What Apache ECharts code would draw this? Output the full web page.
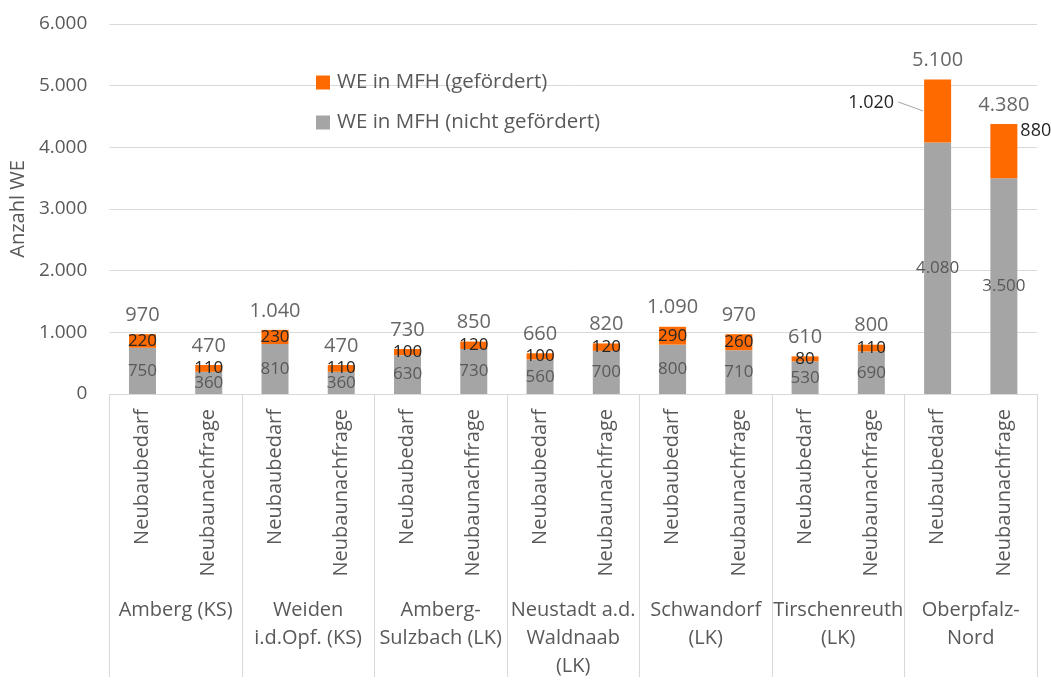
<!DOCTYPE html>
<html>
<head>
<meta charset="utf-8">
<script src="https://cdn.jsdelivr.net/npm/echarts@6/dist/echarts.min.js"></script>
<style>
  html, body { margin: 0; padding: 0; background: #fff; }
  #chart { width: 1051px; height: 680px; }
</style>
</head>
<body>
<div id="chart"></div>
<script>
// Regionen (zweite Achsenebene) und Kennzahl je Region (erste Ebene)
const regions = ['Amberg (KS)', 'Weiden\ni.d.Opf. (KS)', 'Amberg-\nSulzbach (LK)', 'Neustadt a.d.\nWaldnaab\n(LK)', 'Schwandorf\n(LK)', 'Tirschenreuth\n(LK)', 'Oberpfalz-\nNord'];
const kinds = ['Neubaubedarf', 'Neubaunachfrage'];

// Wohneinheiten in Mehrfamilienhäusern, je Region: Bedarf, Nachfrage
const weGefoerdert = [220, 110, 230, 110, 100, 120, 100, 120, 290, 260, 80, 110, 1020, 880];
const weNichtGefoerdert = [750, 360, 810, 360, 630, 730, 560, 700, 800, 710, 530, 690, 4080, 3500];

// y-Achse
const yTicks = [0, 1000, 2000, 3000, 4000, 5000, 6000];

const categories = [];
regions.forEach(() => kinds.forEach(k => categories.push(k)));
const totals = weGefoerdert.map((v, i) => v + weNichtGefoerdert[i]);

const fmt = v => String(v).replace(/\B(?=(\d{3})+(?!\d))/g, '.');

const FONT = '"Open Sans", sans-serif';
const TXT = '#595959';
const ORANGE = '#FF6A00';
const GREY = '#A5A5A5';
const BAR_WIDTH = 27;

// Balken, deren Beschriftung neben den Balken gesetzt wird
const LEFT_LABEL_INDEX = 12;
const RIGHT_LABEL_INDEX = 13;

const orangeData = weGefoerdert.map((v, i) => {
  if (i === LEFT_LABEL_INDEX) {
    return {
      value: v,
      label: { position: 'left', distance: 30, offset: [0, -8], color: '#262626', fontSize: 18 }
    };
  }
  if (i === RIGHT_LABEL_INDEX) {
    return {
      value: v,
      label: { position: 'right', distance: 3, offset: [0, -20], color: '#262626', fontSize: 18 }
    };
  }
  return v;
});

const chart = echarts.init(document.getElementById('chart'), null, { renderer: 'canvas' });

chart.setOption({
  animation: false,
  backgroundColor: '#fff',
  textStyle: { fontFamily: FONT },
  grid: { left: 108, right: 14, top: 24, bottom: 285, containLabel: false },
  legend: {
    data: ['WE in MFH (gefördert)', 'WE in MFH (nicht gefördert)'],
    orient: 'vertical',
    left: 311,
    top: 67,
    itemWidth: 14,
    itemHeight: 14,
    itemGap: 19,
    icon: 'rect',
    textStyle: { fontFamily: FONT, fontSize: 20.5, color: TXT, padding: [0, 0, 0, 2] }
  },
  xAxis: [
    {
      type: 'category',
      data: categories,
      position: 'bottom',
      axisLine: { show: true, lineStyle: { color: '#D9D9D9', width: 1 } },
      axisTick: { show: false },
      axisLabel: {
        rotate: 90,
        margin: 15,
        fontFamily: FONT,
        fontSize: 20,
        color: TXT,
        interval: 0
      }
    },
    {
      type: 'category',
      data: regions,
      position: 'bottom',
      boundaryGap: true,
      axisLine: { show: false },
      axisTick: { show: true, length: 283, lineStyle: { color: '#D9D9D9', width: 1 } },
      axisLabel: {
        margin: 202,
        fontFamily: FONT,
        fontSize: 20,
        lineHeight: 28,
        color: TXT,
        interval: 0,
        verticalAlign: 'top'
      }
    }
  ],
  yAxis: {
    type: 'value',
    min: yTicks[0],
    max: yTicks[yTicks.length - 1],
    interval: 1000,
    name: 'Anzahl WE',
    nameLocation: 'middle',
    nameGap: 77,
    nameTextStyle: { fontFamily: FONT, fontSize: 20, color: TXT },
    axisLine: { show: false },
    axisTick: { show: false },
    splitLine: { lineStyle: { color: '#D9D9D9', width: 1 } },
    axisLabel: {
      margin: 22,
      fontFamily: FONT,
      fontSize: 19,
      color: TXT,
      formatter: v => fmt(v)
    }
  },
  series: [
    {
      name: 'WE in MFH (nicht gefördert)',
      type: 'bar',
      stack: 'we',
      xAxisIndex: 0,
      barWidth: BAR_WIDTH,
      itemStyle: { color: GREY },
      label: {
        show: true,
        position: 'inside',
        fontFamily: FONT,
        fontSize: 17,
        color: TXT,
        formatter: p => fmt(p.value)
      },
      data: weNichtGefoerdert
    },
    {
      name: 'WE in MFH (gefördert)',
      type: 'bar',
      stack: 'we',
      xAxisIndex: 0,
      barWidth: BAR_WIDTH,
      itemStyle: { color: ORANGE },
      label: {
        show: true,
        position: 'inside',
        fontFamily: FONT,
        fontSize: 17,
        color: '#262626',
        formatter: p => fmt(p.value)
      },
      data: orangeData
    },
    {
      name: 'Summe',
      type: 'scatter',
      xAxisIndex: 0,
      symbolSize: 0,
      silent: true,
      z: 5,
      label: {
        show: true,
        position: 'top',
        distance: 9,
        fontFamily: FONT,
        fontSize: 20,
        color: '#404040',
        formatter: p => fmt(p.value)
      },
      data: totals
    }
  ]
});

// Führungslinie von der links versetzten Beschriftung zur Mitte des oberen Segments
const i = LEFT_LABEL_INDEX;
const mid = chart.convertToPixel({ seriesIndex: 1 }, [i, weNichtGefoerdert[i] + weGefoerdert[i] / 2]);
const edgeX = mid[0] - BAR_WIDTH / 2;
chart.setOption({
  graphic: [{
    type: 'line',
    silent: true,
    shape: { x1: edgeX - 1, y1: mid[1], x2: edgeX - 26, y2: mid[1] - 9 },
    style: { stroke: '#A5A5A5', lineWidth: 1 }
  }]
});
</script>
</body>
</html>
